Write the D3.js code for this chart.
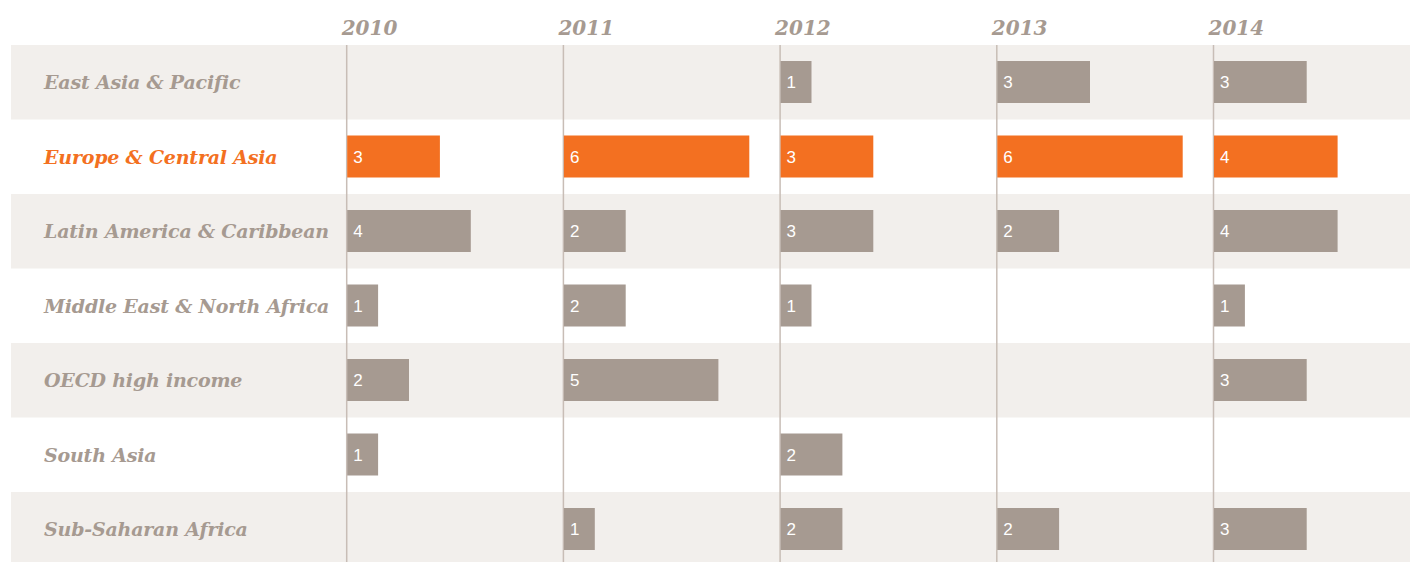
<!DOCTYPE html>
<html>
<head>
<meta charset="utf-8">
<script src="https://cdn.jsdelivr.net/npm/d3@7"></script>
<style>
  body { margin:0; background:#fff; }
  svg { display:block; }
</style>
</head>
<body>
<svg id="chart"></svg>
<script>
//regions down the side
var regions = ["East Asia & Pacific","Europe & Central Asia","Latin America & Caribbean",
  "Middle East & North Africa","OECD high income","South Asia","Sub-Saharan Africa"];
//years across the top
var years = ["2010","2011","2012","2013","2014"];
//counts per region, one per year (null = no bar)
var eastAsia   = [null,null,1,3,3];
var europe     = [3,6,3,6,4];
var latAm      = [4,2,3,2,4];
var mena       = [1,2,1,null,1];
var oecd       = [2,5,null,null,3];
var southAsia  = [1,null,2,null,null];
var subSahara  = [null,1,2,2,3];
var highlight = "Europe & Central Asia";

var values = [eastAsia,europe,latAm,mena,oecd,southAsia,subSahara];

var screen = {width:1413, height:562};
var grey = "#a69a91", orange = "#f37021", band = "#f2efec", line = "#c8bdb6";
var serif = "'DejaVu Serif', serif";

var svg = d3.select("#chart")
    .attr("width",screen.width)
    .attr("height",screen.height);

//rows
var yScale = d3.scaleBand()
    .domain(regions)
    .range([45,45+74.5*regions.length]);

//where each year column starts
var colScale = d3.scalePoint()
    .domain(years)
    .range([346.7,346.7+216.7*4]);

//bar length per count
var wScale = d3.scaleLinear()
    .domain([0,1])
    .range([0,30.9]);

//shaded bands on every other row
svg.selectAll("rect.band")
    .data(regions.filter(function(r,i){return i%2==0;}))
    .enter()
    .append("rect")
    .attr("class","band")
    .attr("x",11)
    .attr("width",1399)
    .attr("y",function(r){return yScale(r);})
    .attr("height",yScale.bandwidth())
    .attr("fill",band);

//year lines
svg.selectAll("line.year")
    .data(years)
    .enter()
    .append("line")
    .attr("x1",function(y){return colScale(y);})
    .attr("x2",function(y){return colScale(y);})
    .attr("y1",45)
    .attr("y2",screen.height)
    .attr("stroke",line)
    .attr("stroke-width",1.5);

//year labels
svg.selectAll("text.year")
    .data(years)
    .enter()
    .append("text")
    .attr("x",function(y){return colScale(y)-5;})
    .attr("y",35)
    .attr("fill",grey)
    .style("font-family",serif)
    .style("font-style","italic")
    .style("font-weight","bold")
    .style("font-size","20px")
    .text(function(y){return y;});

//region labels
svg.selectAll("text.region")
    .data(regions)
    .enter()
    .append("text")
    .attr("x",44)
    .attr("y",function(r){return yScale(r)+yScale.bandwidth()/2+7;})
    .attr("fill",function(r){return r==highlight?orange:grey;})
    .style("font-family",serif)
    .style("font-style","italic")
    .style("font-weight","bold")
    .style("font-size","19px")
    .style("letter-spacing","-0.2px")
    .text(function(r){return r;});

//bars
var cells = [];
regions.forEach(function(r,i)
{
    years.forEach(function(y,j)
    {
        if(values[i][j]!=null)
            cells.push({region:r,year:y,value:values[i][j]});
    });
});

var g = svg.selectAll("g.cell")
    .data(cells)
    .enter()
    .append("g")
    .attr("transform",function(d){
        return "translate("+(colScale(d.year)+0.5)+","+yScale(d.region)+")";
    });

g.append("rect")
    .attr("x",0)
    .attr("y",16)
    .attr("width",function(d){return wScale(d.value);})
    .attr("height",42)
    .attr("fill",function(d){return d.region==highlight?orange:grey;});

g.append("text")
    .attr("x",6)
    .attr("y",yScale.bandwidth()/2+6)
    .attr("fill","#fff")
    .style("font-family","'Liberation Sans', Arial, sans-serif")
    .style("font-size","17px")
    .text(function(d){return d.value;});
</script>
</body>
</html>
